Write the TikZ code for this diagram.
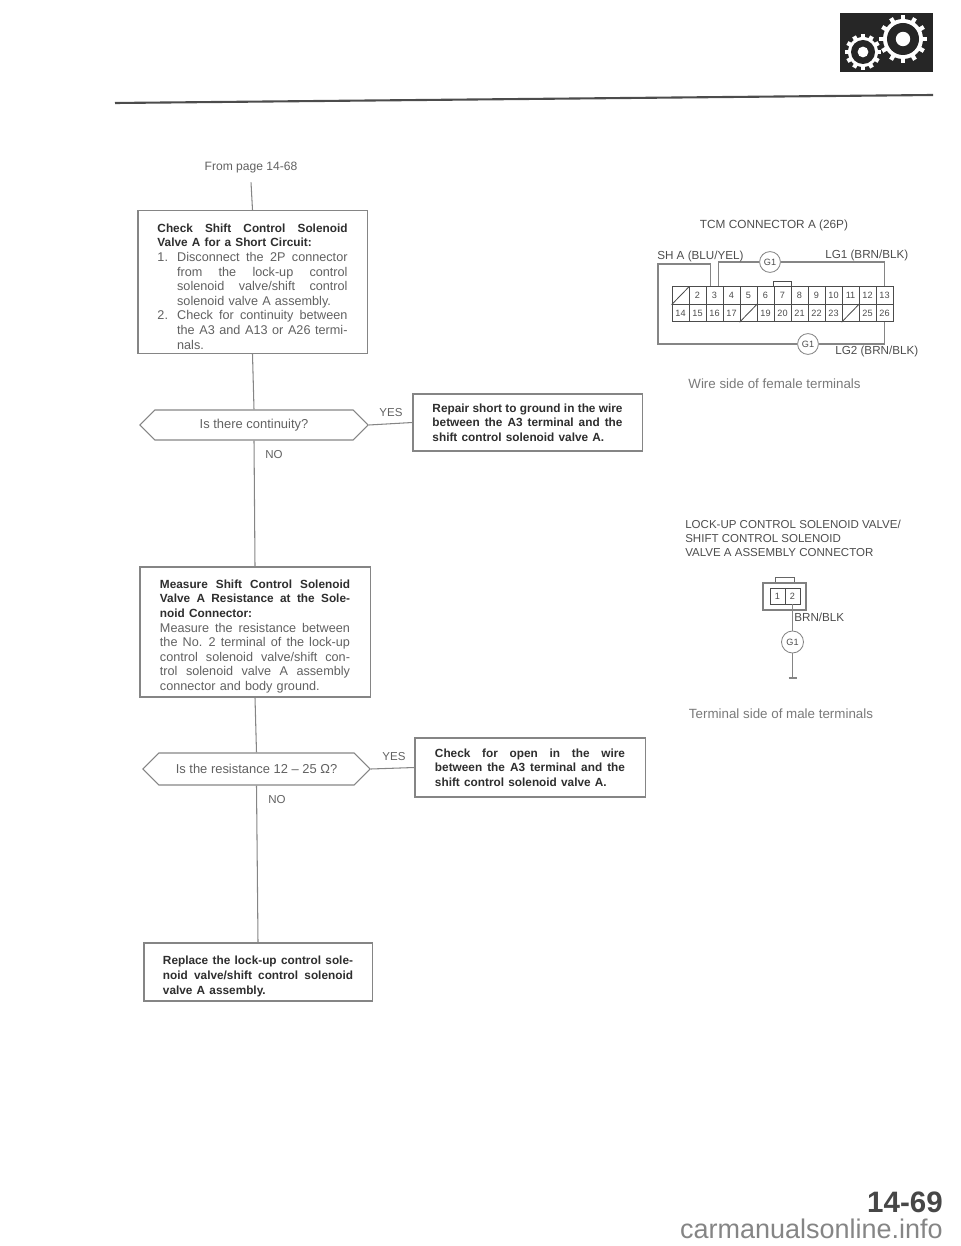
\documentclass[tikz,border=0pt]{standalone}
\usepackage{fontspec}
\setmainfont{Liberation Sans}
\usetikzlibrary{shapes.symbols}
\colorlet{textcolor}{black!62}
\colorlet{headcolor}{black!82}
\colorlet{linecolor}{black!48}
\newcommand{\headfont}{\fontsize{8.4}{10.4}\selectfont\bfseries\color{headcolor}}
\newcommand{\jline}[2][]{\leavevmode\hbox to \hsize{#1\spaceskip=\fontdimen2\font plus 1fil\relax #2}}
\newcommand{\gearwheel}[5]{%
    \foreach \a in {0,30,...,330} {
            \draw[white, line width=3pt] (#1,#2) ++(\a:#3-1) -- ++(\a:#4-#3+1);
        }
    \fill[white] (#1,#2) circle [radius=#3];
    \fill[black!85] (#1,#2) circle [radius=#5];
    \fill[white] (#1,#2) circle [radius=#5*0.45];
}
\tikzset{
    wire/.style={draw=linecolor, line width=0.75pt},
    flowbox/.style={draw=linecolor, line width=0.75pt, fill=white, inner sep=0pt, text width=4.75cm, align=left, text=textcolor, font=\fontsize{9}{10.4}\selectfont},
    decision/.style={signal, signal to=west and east, signal pointer angle=90, draw=linecolor, line width=0.75pt, inner sep=0pt, text=textcolor, font=\fontsize{9.2}{11}\selectfont},
    answer/.style={inner sep=0pt, text=textcolor, font=\fontsize{8.2}{10}\selectfont},
    caption/.style={inner sep=0pt, text=textcolor!85, font=\fontsize{9.5}{11}\selectfont},
    wirelabel/.style={inner sep=0pt, text=headcolor!85, anchor=west, font=\fontsize{8.3}{10}\selectfont},
    pincell/.style={draw=black!70, line width=0.6pt, inner sep=0pt, minimum width=0.425cm, minimum height=0.4375cm, text=black!70, font=\fontsize{6.5}{7}\selectfont},
    groundmark/.style={circle, draw=linecolor, line width=0.6pt, fill=white, inner sep=0pt, minimum size=0.52cm, text=black!70, font=\fontsize{6.5}{7}\selectfont}
}

\begin{document}
\begin{tikzpicture}[x=0.025cm, y=-0.025cm]
    \useasboundingbox (0,0) rectangle (960,1246);
    % --- Page header: gear icon and rule ---
    \fill[black!85] (840,13) rectangle (933,72);
    \gearwheel{863}{52}{15}{18}{12}
    \gearwheel{903}{39}{20}{24}{16}
    \draw[black!70, line width=1.5pt] (115,103) -- (933,95);
    % --- Flow chart (left) ---
    \node[inner sep=0pt, minimum height=0.7cm, text=textcolor, font=\fontsize{8.6}{10}\selectfont] (frompage) at (251,168) {From page 14-68};
    \node[flowbox, minimum width=5.725cm, minimum height=3.575cm] (checkshort) at (252.5,282) {%
        \vspace*{2pt}
        \jline[\headfont]{Check Shift Control Solenoid}\\
        {\headfont Valve A for a Short Circuit:}\\
        \jline{\makebox[14pt][l]{1.}Disconnect the 2P connector}\\
        \jline{\hskip14pt from the lock-up control}\\
        \jline{\hskip14pt solenoid valve/shift control}\\
        \hspace*{14pt}solenoid valve A assembly.\\
        \jline{\makebox[14pt][l]{2.}Check for continuity between}\\
        \jline{\hskip14pt the A3 and A13 or A26 termi-}\\
        \hspace*{14pt}nals.};
    \node[decision, minimum width=5.7cm, minimum height=0.75cm] (continuity) at (254,425) {Is there continuity?};
    \node[flowbox, minimum width=5.725cm, minimum height=1.425cm] (repairshort) at (527.5,422.5) {%
        \jline[\headfont]{Repair short to ground in the wire}\\
        \jline[\headfont]{between the A3 terminal and the}\\
        {\headfont shift control solenoid valve A.}};
    \node[flowbox, minimum width=5.75cm, minimum height=3.25cm] (measure) at (255,632) {%
        \vspace*{2pt}
        \jline[\headfont]{Measure Shift Control Solenoid}\\
        \jline[\headfont]{Valve A Resistance at the Sole-}\\
        {\headfont noid Connector:}\\
        \jline{Measure the resistance between}\\
        \jline{the No. 2 terminal of the lock-up}\\
        \jline{control solenoid valve/shift con-}\\
        \jline{trol solenoid valve A assembly}\\
        connector and body ground.};
    \node[decision, minimum width=5.675cm, minimum height=0.8cm] (resistance) at (256.5,769) {Is the resistance 12 – 25 Ω?};
    \node[flowbox, minimum width=5.75cm, minimum height=1.475cm] (checkopen) at (530,767.5) {%
        \jline[\headfont]{Check for open in the wire}\\
        \jline[\headfont]{between the A3 terminal and the}\\
        {\headfont shift control solenoid valve A.}};
    \node[flowbox, minimum width=5.7cm, minimum height=1.45cm] (replace) at (258,972) {%
        \vspace*{2pt}
        \jline[\headfont]{Replace the lock-up control sole-}\\
        \jline[\headfont]{noid valve/shift control solenoid}\\
        {\headfont valve A assembly.}};
    \node[answer] (yes1) at (391,413) {YES};
    \node[answer] (no1) at (274,455) {NO};
    \node[answer] (yes2) at (394,757) {YES};
    \node[answer] (no2) at (277,800) {NO};
    \draw[wire] (frompage.south) -- (checkshort.north);
    \draw[wire] (checkshort.south) -- (continuity.north);
    \draw[wire] (continuity.east) -- (repairshort.west);
    \draw[wire] (continuity.south) -- (measure.north);
    \draw[wire] (measure.south) -- (resistance.north);
    \draw[wire] (resistance.east) -- (checkopen.west);
    \draw[wire] (resistance.south) -- (replace.north);
    % --- TCM connector (upper right) ---
    \node[inner sep=0pt, text=headcolor!85, font=\fontsize{8.4}{10}\selectfont] (tcmtitle) at (774,225) {TCM CONNECTOR A (26P)};
    \foreach \r in {0,1} {
            \foreach \c in {1,...,13} {
                    \pgfmathtruncatemacro{\n}{\c+13*\r}
                    \pgfmathsetmacro{\px}{672+17*(\c-0.5)}
                    \pgfmathsetmacro{\py}{295.5+17.5*\r}
                    \pgfmathtruncatemacro{\blank}{(\n==1)||(\n==18)||(\n==24)}
                    \ifnum\blank=1
                        \node[pincell] (pin\n) at (\px,\py) {};
                        \draw[black!70, line width=0.6pt] (pin\n.south west) -- (pin\n.north east);
                    \else
                        \node[pincell] (pin\n) at (\px,\py) {\n};
                    \fi
                }
        }
    \draw[black!70, line width=0.6pt] (pin7.north west) -- ++(0,-5) -| (pin7.north east);
    \node[groundmark] (tcmgnd1) at (770,262) {G1};
    \node[groundmark] (tcmgnd2) at (808,344) {G1};
    \coordinate (wirecorner) at (658,264);
    \draw[wire] (tcmgnd1.east) -| (pin13.north);
    \draw[wire] (tcmgnd1.west) -| ([xshift=0.09cm]pin3.north);
    \draw[wire] (tcmgnd2.east) -| (pin26.south);
    \draw[wire] (tcmgnd2.west) -| (wirecorner) -| ([xshift=-0.09cm]pin3.north);
    \node[wirelabel] (shalabel) at (657,256) {SH A (BLU/YEL)};
    \node[wirelabel] (lg1label) at (825,255) {LG1 (BRN/BLK)};
    \node[wirelabel] (lg2label) at (835,351) {LG2 (BRN/BLK)};
    \node[caption] (wireside) at (774.5,384) {Wire side of female terminals};
    % --- Solenoid connector (lower right) ---
    \node[inner sep=0pt, text=headcolor!85, align=left, anchor=north west, font=\fontsize{8.2}{9.9}\selectfont] (valvetitle) at (685,520) {LOCK-UP CONTROL SOLENOID VALVE/\\SHIFT CONTROL SOLENOID\\VALVE A ASSEMBLY CONNECTOR};
    \node[draw=black!50, line width=0.8pt, inner sep=0pt, minimum width=1.075cm, minimum height=0.675cm] (valveconn) at (784.5,596.5) {};
    \draw[black!60, line width=0.6pt] (valveconn.north) ++(-9.5,0) -- ++(0,-5) -- ++(19,0) -- ++(0,5);
    \node[pincell, minimum width=0.375cm, minimum height=0.4cm] (valvepin1) at (777.5,596) {1};
    \node[pincell, minimum width=0.375cm, minimum height=0.4cm] (valvepin2) at (792.5,596) {2};
    \node[groundmark, minimum size=0.55cm] (valvegnd) at (792.5,642) {G1};
    \coordinate (earth) at (792.5,678);
    \draw[wire] (valvepin2.south) -- (valvegnd.north);
    \draw[wire] (valvegnd.south) -- (earth);
    \draw[wire] (earth) ++(-4,0) -- ++(8,0);
    \node[wirelabel] (valvewire) at (794,617) {BRN/BLK};
    \node[caption] (termside) at (781,714) {Terminal side of male terminals};
    % --- Page number and footer ---
    \node[inner sep=0pt, anchor=east, text=black!72, font=\fontsize{21}{24}\selectfont\bfseries] (pagenum) at (943,1202) {14-69};
    \node[inner sep=0pt, anchor=base east, text=black!48, font=\fontsize{19.2}{22}\selectfont] (footer) at (943,1238) {carmanualsonline.info};
\end{tikzpicture}
\end{document}
